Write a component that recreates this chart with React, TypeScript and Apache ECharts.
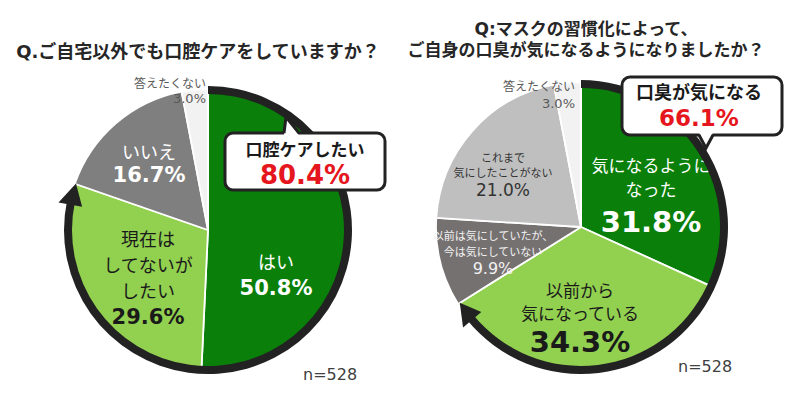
import React, { useEffect, useRef } from 'react';
import * as echarts from 'echarts';

// ---------- data ----------
const leftTitle = 'Q.ご自宅以外でも口腔ケアをしていますか？';
const leftCategories = ['はい', '現在はしてないがしたい', 'いいえ', '答えたくない'];
const leftLabelLines = [['はい'], ['現在は', 'してないが', 'したい'], ['いいえ'], ['答えたくない']];
const leftValues = [50.8, 29.6, 16.7, 3.0];
const leftCalloutText = '口腔ケアしたい';

const rightTitleLines = ['Q:マスクの習慣化によって、', 'ご自身の口臭が気になるようになりましたか？'];
const rightCategories = [
  '気になるようになった',
  '以前から気になっている',
  '以前は気にしていたが、今は気にしていない',
  'これまで気にしたことがない',
  '答えたくない',
];
const rightLabelLines = [
  ['気になるように', 'なった'],
  ['以前から', '気になっている'],
  ['以前は気にしていたが、', '今は気にしていない'],
  ['これまで', '気にしたことがない'],
  ['答えたくない'],
];
const rightValues = [31.8, 34.3, 9.9, 21.0, 3.0];
const rightCalloutText = '口臭が気になる';

const sampleSizes = [528, 528];

// ---------- styles / layout ----------
const JP = "'Noto Sans CJK JP', sans-serif";
const NUM = "'DejaVu Sans', 'Noto Sans CJK JP', sans-serif";
const DARK = '#222222';
const RED = '#e5161d';

const leftColors = ['#0a7f0a', '#92d050', '#7f7f7f', '#f2f2f2'];
const rightColors = ['#0a7f0a', '#92d050', '#767171', '#bfbfbf', '#f2f2f2'];

type LS = {
  x: number; y: number; align: 'center' | 'right';
  nameSize: number; nameLH: number; nameColor: string;
  valSize: number; valLH: number; valColor: string; valWeight: string;
};

const leftLabelStyles: LS[] = [
  { x: 276, y: 274, align: 'center', nameSize: 18, nameLH: 27, nameColor: '#ffffff', valSize: 21, valLH: 27, valColor: '#ffffff', valWeight: 'bold' },
  { x: 148, y: 278, align: 'center', nameSize: 18, nameLH: 26, nameColor: '#1a1a1a', valSize: 21, valLH: 28, valColor: '#1a1a1a', valWeight: 'bold' },
  { x: 149, y: 163, align: 'center', nameSize: 18, nameLH: 24, nameColor: '#ffffff', valSize: 21, valLH: 24, valColor: '#ffffff', valWeight: 'bold' },
  { x: 206, y: 90, align: 'right', nameSize: 12, nameLH: 16, nameColor: '#595959', valSize: 13, valLH: 16, valColor: '#595959', valWeight: 'normal' },
];
const rightLabelStyles: LS[] = [
  { x: 651, y: 198, align: 'center', nameSize: 17, nameLH: 24, nameColor: '#ffffff', valSize: 29, valLH: 44, valColor: '#ffffff', valWeight: 'bold' },
  { x: 580, y: 319, align: 'center', nameSize: 17, nameLH: 23, nameColor: '#1a1a1a', valSize: 29, valLH: 36, valColor: '#1a1a1a', valWeight: 'bold' },
  { x: 493, y: 252, align: 'center', nameSize: 11, nameLH: 16, nameColor: '#f2f2f2', valSize: 16, valLH: 18, valColor: '#f2f2f2', valWeight: 'normal' },
  { x: 503, y: 175, align: 'center', nameSize: 11, nameLH: 15, nameColor: '#333333', valSize: 17, valLH: 21, valColor: '#333333', valWeight: 'normal' },
  { x: 575, y: 94, align: 'right', nameSize: 12, nameLH: 18, nameColor: '#595959', valSize: 13, valLH: 18, valColor: '#595959', valWeight: 'normal' },
];

const leftGeo = { cx: 208, cy: 230, r: 141, ringIn: 136, ringOut: 144, arrowL: 22, arrowW: 24 };
const rightGeo = { cx: 581, cy: 227, r: 145, ringIn: 139, ringOut: 147, arrowL: 21, arrowW: 24 };

const leftBox = { x: 225, y: 133, w: 160, h: 57, tail: [[284, 133], [286, 117], [299, 133]], cx: 305, t1y: 148, t2y: 175, t1Size: 17, t2Size: 26 };
const rightBox = { x: 622, y: 77, w: 160, h: 58, tail: [[699, 135], [706, 148], [713, 135]], cx: 699, t1y: 91, t2y: 118, t1Size: 18, t2Size: 23 };

const nPos = [[303, 374], [678, 366]];

// ---------- helpers ----------
function pieSeries(values: number[], names: string[], lines: string[][], colors: string[], styles: LS[], geo: any) {
  return {
    type: 'pie',
    center: [geo.cx, geo.cy],
    radius: [0, geo.r],
    startAngle: 90,
    clockwise: true,
    z: 2,
    itemStyle: { borderColor: '#ffffff', borderWidth: 1.8 },
    labelLine: { show: false },
    emphasis: { disabled: true },
    label: { show: true, position: 'inside' },
    labelLayout: (p: any) => {
      const s = styles[p.dataIndex];
      return { x: s.x, y: s.y, align: s.align, verticalAlign: 'middle' };
    },
    data: values.map((v, i) => {
      const s = styles[i];
      return {
        name: names[i],
        value: v,
        itemStyle: { color: colors[i] },
        label: {
          formatter: lines[i].map((l) => `{n|${l}}`).join('\n') + `\n{v|${v.toFixed(1)}%}`,
          rich: {
            n: { fontSize: s.nameSize, lineHeight: s.nameLH, color: s.nameColor, fontFamily: JP, align: s.align },
            v: { fontSize: s.valSize, lineHeight: s.valLH, color: s.valColor, fontFamily: NUM, fontWeight: s.valWeight, align: s.align },
          },
        },
      };
    }),
  };
}

function ringSeries(frac: number, geo: any) {
  const rMid = (geo.ringIn + geo.ringOut) / 2;
  const delta = ((geo.arrowL - 3) / (2 * Math.PI * rMid)) * 100;
  return {
    type: 'pie',
    center: [geo.cx, geo.cy],
    radius: [geo.ringIn, geo.ringOut],
    startAngle: 90,
    clockwise: true,
    silent: true,
    z: 5,
    label: { show: false },
    labelLine: { show: false },
    emphasis: { disabled: true },
    itemStyle: { borderWidth: 0 },
    data: [
      { value: frac - delta, itemStyle: { color: DARK } },
      { value: 100 - frac + delta, itemStyle: { color: 'rgba(0,0,0,0)' } },
    ],
  };
}

function arrowHead(frac: number, geo: any) {
  const rMid = (geo.ringIn + geo.ringOut) / 2;
  const th = (frac / 100) * 2 * Math.PI;
  const pt = (r: number, a: number) => [geo.cx + r * Math.sin(a), geo.cy - r * Math.cos(a)];
  const thb = th - geo.arrowL / rMid;
  return {
    type: 'polygon',
    z: 100,
    shape: { points: [pt(rMid, th), pt(rMid - geo.arrowW / 2, thb), pt(rMid + geo.arrowW / 2, thb)] },
    style: { fill: DARK },
  };
}

function callout(box: any, text: string, value: number) {
  const tip = box.tail[1];
  const dir = tip[1] < box.tail[0][1] ? 1 : -1;
  const cover = box.tail.map((p: number[], i: number) => (i === 1 ? p : [p[0], p[1] + dir * 2.5]));
  return [
    { type: 'rect', z: 100, shape: { x: box.x, y: box.y, width: box.w, height: box.h, r: 8 }, style: { fill: '#ffffff', stroke: DARK, lineWidth: 3 } },
    { type: 'polygon', z: 101, shape: { points: cover }, style: { fill: '#ffffff' } },
    { type: 'polyline', z: 102, shape: { points: box.tail }, style: { stroke: DARK, lineWidth: 3, fill: 'none' } },
    { type: 'text', z: 103, x: box.cx, y: box.t1y, style: { text, fill: '#1a1a1a', fontSize: box.t1Size, fontWeight: 'bold', fontFamily: JP, align: 'center', verticalAlign: 'middle' } },
    { type: 'text', z: 103, x: box.cx, y: box.t2y, style: { text: `${value.toFixed(1)}%`, fill: RED, fontSize: box.t2Size, fontWeight: 'bold', fontFamily: NUM, align: 'center', verticalAlign: 'middle' } },
  ];
}

export default function App() {
  const ref = useRef<HTMLDivElement>(null);
  useEffect(() => {
    if (!ref.current) return;
    const chart = echarts.init(ref.current, undefined, { renderer: 'svg' });
    const leftSum = +(leftValues[0] + leftValues[1]).toFixed(1);
    const rightSum = +(rightValues[0] + rightValues[1]).toFixed(1);
    chart.setOption({
      animation: false,
      backgroundColor: '#ffffff',
      title: [
        {
          text: leftTitle, left: 198, top: 42, textAlign: 'center', padding: 0,
          textStyle: { fontSize: 18, fontWeight: 'bold', color: '#262626', fontFamily: NUM },
        },
        {
          text: rightTitleLines.join('\n'), left: 586, top: 18, textAlign: 'center', padding: 0,
          textStyle: { fontSize: 17, fontWeight: 'bold', color: '#262626', fontFamily: NUM, lineHeight: 21 },
        },
      ],
      series: [
        pieSeries(leftValues, leftCategories, leftLabelLines, leftColors, leftLabelStyles, leftGeo),
        ringSeries(leftSum, leftGeo),
        pieSeries(rightValues, rightCategories, rightLabelLines, rightColors, rightLabelStyles, rightGeo),
        ringSeries(rightSum, rightGeo),
      ],
      graphic: [
        arrowHead(leftSum, leftGeo),
        arrowHead(rightSum, rightGeo),
        ...callout(leftBox, leftCalloutText, leftSum),
        ...callout(rightBox, rightCalloutText, rightSum),
        ...sampleSizes.map((n, i) => ({
          type: 'text', z: 100, x: nPos[i][0], y: nPos[i][1],
          style: { text: `n=${n}`, fill: '#404040', fontSize: 16, fontFamily: NUM, verticalAlign: 'middle' },
        })),
      ],
    });
    return () => chart.dispose();
  }, []);
  return <div ref={ref} style={{ position: 'fixed', left: 0, top: 0, width: 800, height: 399 }} />;
}
